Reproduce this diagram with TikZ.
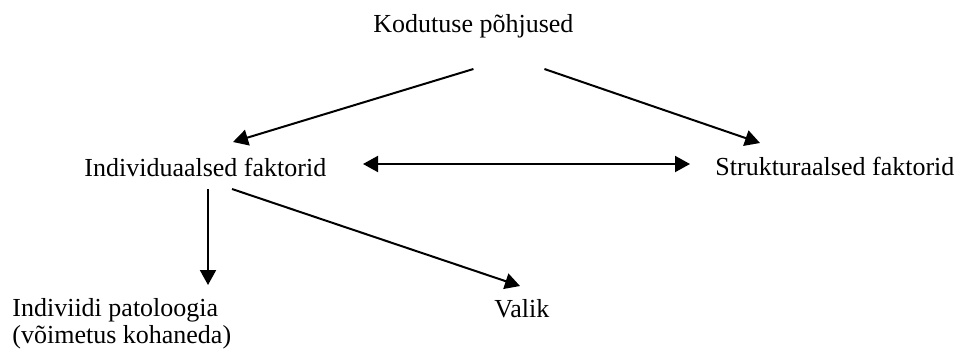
\documentclass[tikz,border=0pt]{standalone}
\usepackage{fontspec}
\setmainfont{Liberation Serif}
\usetikzlibrary{arrows.meta}

\begin{document}
\begin{tikzpicture}[x=0.5pt, y=-0.5pt]
\tikzset{>={Triangle[length=7.5pt, width=8pt]}}
\tikzset{VertexStyle/.style={inner sep=0pt, anchor=base west, align=left,
  font=\fontsize{13}{13.25}\selectfont}}
\tikzset{EdgeStyle/.style={->, line width=1pt}}
\useasboundingbox (0,0) rectangle (962,354);
\node[VertexStyle] (s) at (373,32) {Kodutuse põhjused};
\node[VertexStyle] (l) at (84,176) {Individuaalsed faktorid};
\node[VertexStyle] (r) at (715,175) {Strukturaalsed faktorid};
\node[VertexStyle] (ld) at (12,343) {Indiviidi patoloogia\\(võimetus kohaneda)};
\node[VertexStyle] (lr) at (494,317) {Valik};
\draw[EdgeStyle] ([shift={(0,37)}]s.base) -- ([shift={(149,-34)}]l.base west);
\draw[EdgeStyle] ([shift={(71,37)}]s.base) -- ([shift={(45,-32)}]r.base west);
\draw[EdgeStyle, <->] ([shift={(279,-12)}]l.base west) -- ([shift={(-25,-11)}]r.base west);
\draw[EdgeStyle] ([shift={(124,13)}]l.base west) -- ([shift={(196,-58)}]ld.base west);
\draw[EdgeStyle] ([shift={(148,13)}]l.base west) -- ([shift={(26,-31)}]lr.base west);
\end{tikzpicture}
\end{document}
